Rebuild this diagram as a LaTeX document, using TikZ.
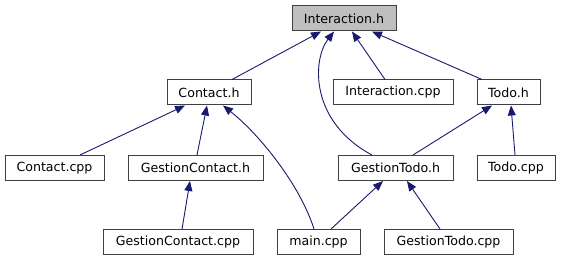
\documentclass[tikz,border=0pt]{standalone}
\usepackage{fontspec}
\setmainfont{DejaVu Sans}
\usetikzlibrary{arrows.meta}
\definecolor{edgeblue}{HTML}{191970}
\definecolor{rootgray}{HTML}{BFBFBF}
\tikzset{
  file/.style={draw=black!75, line width=1pt, fill=white, rectangle, inner sep=0pt,
    minimum height=25pt, font=\fontsize{12.6}{15}\selectfont, text=black},
  rootfile/.style={file, fill=rootgray},
  dep/.style={draw=edgeblue, line width=0.9pt,
    -{Triangle[length=10pt,width=8pt,fill=edgeblue]}},
}
\begin{document}
\begin{tikzpicture}[x=1pt, y=-1pt]
\useasboundingbox (0,0) rectangle (562,261);

% headers and sources
\node[rootfile, minimum width=104pt] (interaction) at (344,18.5) {Interaction.h};
\node[file, minimum width=84pt]  (contact)   at (209,92.5)  {Contact.h};
\node[file, minimum width=120pt] (interactioncpp) at (393,92.5) {Interaction.cpp};
\node[file, minimum width=63pt]  (todo)      at (508.5,92.5) {Todo.h};
\node[file, minimum width=99pt]  (contactcpp) at (54.5,168)  {Contact.cpp};
\node[file, minimum width=135pt] (gestioncontact) at (195.5,168) {GestionContact.h};
\node[file, minimum width=115pt] (gestiontodo) at (395.5,168) {GestionTodo.h};
\node[file, minimum width=78pt]  (todocpp)   at (516,168)   {Todo.cpp};
\node[file, minimum width=150pt] (gestioncontactcpp) at (178,242) {GestionContact.cpp};
\node[file, minimum width=83pt]  (maincpp)   at (318.5,242) {main.cpp};
\node[file, minimum width=129pt] (gestiontodocpp) at (448.5,242) {GestionTodo.cpp};

% include dependencies (arrow points at the included file)
\draw[dep] ([xshift=23pt]contact.north) -- ([xshift=-23pt]interaction.south);
\draw[dep] ([xshift=-23.5pt]gestiontodo.north) .. controls (310,122) and (312,60) .. ([xshift=-10pt]interaction.south);
\draw[dep] ([xshift=-8pt]interactioncpp.north) -- ([xshift=8pt]interaction.south);
\draw[dep] ([xshift=-26.5pt]todo.north) -- ([xshift=28pt]interaction.south);

\draw[dep] ([xshift=25.5pt]contactcpp.north) -- ([xshift=-24pt]contact.south);
\draw[dep] ([xshift=1.5pt]gestioncontact.north) -- ([xshift=-2pt]contact.south);
\draw[dep] ([xshift=-4.5pt]maincpp.north) .. controls (300,185) and (260,135) .. ([xshift=14pt]contact.south);

\draw[dep] ([xshift=17.5pt]gestiontodo.north) -- ([xshift=-16.5pt]todo.south);
\draw[dep] ([xshift=-1pt]todocpp.north) -- ([xshift=2.5pt]todo.south);

\draw[dep] ([xshift=4pt]gestioncontactcpp.north) -- ([xshift=-5.5pt]gestioncontact.south);
\draw[dep] ([xshift=12.5pt]maincpp.north) -- ([xshift=-12.5pt]gestiontodo.south);
\draw[dep] ([xshift=-8.5pt]gestiontodocpp.north) -- ([xshift=11.5pt]gestiontodo.south);
\end{tikzpicture}
\end{document}
